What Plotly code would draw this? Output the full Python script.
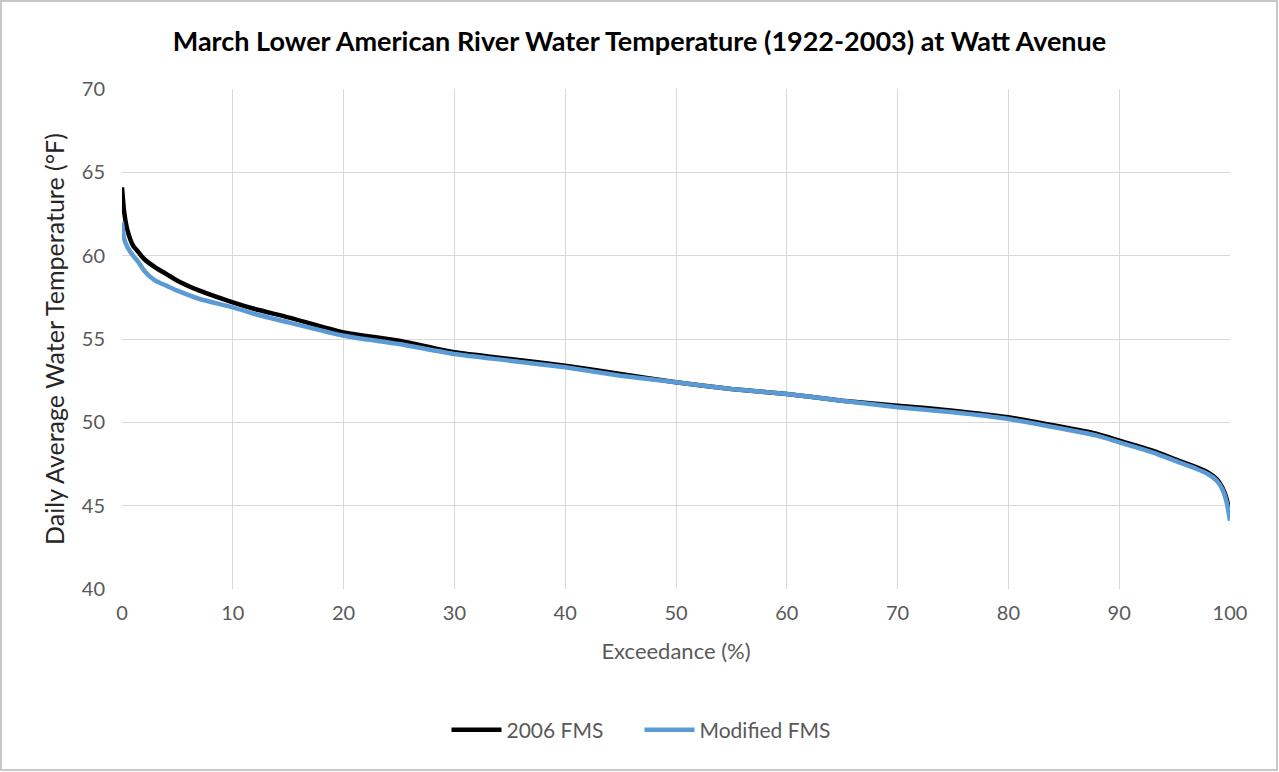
import plotly.graph_objects as go

exceed_2006 = [0, 0.2, 0.5, 1, 1.5, 2, 3, 4, 5, 7, 10, 12, 15, 20, 25, 30, 35, 40, 45, 50, 55, 60, 65, 70, 75, 80, 85, 88, 90, 93, 95, 97, 98, 98.8, 99.3, 99.7, 100]
temp_2006 = [64.1, 62.6, 61.5, 60.6, 60.2, 59.8, 59.3, 58.9, 58.5, 57.9, 57.2, 56.8, 56.3, 55.4, 54.9, 54.2, 53.8, 53.4, 52.9, 52.4, 52.0, 51.7, 51.3, 51.0, 50.7, 50.3, 49.7, 49.3, 48.9, 48.3, 47.8, 47.3, 47.0, 46.6, 46.1, 45.4, 44.4]

exceed_mod = [0, 0.2, 0.5, 1, 1.5, 2, 3, 4, 5, 7, 10, 12, 15, 20, 25, 30, 35, 40, 45, 50, 55, 60, 65, 70, 75, 80, 85, 88, 90, 93, 95, 97, 98, 98.8, 99.3, 99.7, 100]
temp_mod = [62.0, 61.0, 60.5, 60.0, 59.6, 59.1, 58.5, 58.2, 57.9, 57.4, 56.9, 56.5, 56.0, 55.2, 54.7, 54.1, 53.7, 53.3, 52.8, 52.4, 52.0, 51.7, 51.3, 50.9, 50.6, 50.2, 49.6, 49.2, 48.8, 48.2, 47.7, 47.2, 46.9, 46.5, 46.0, 45.2, 44.1]

fig = go.Figure()
fig.add_trace(go.Scatter(x=exceed_2006, y=temp_2006, mode="lines", name="2006 FMS",
                         line=dict(color="#000000", width=4.5, shape="spline", smoothing=0.6)))
fig.add_trace(go.Scatter(x=exceed_mod, y=temp_mod, mode="lines", name="Modified FMS",
                         line=dict(color="#5B9BD5", width=4.5, shape="spline", smoothing=0.6)))

W, H = 1279, 772
ml, mr, mt, mb = 122, 49, 89, 183
pw, ph = W - ml - mr, H - mt - mb
FONT = "Lato, Liberation Sans, sans-serif"

fig.update_layout(
    width=W, height=H,
    margin=dict(l=ml, r=mr, t=mt, b=mb, autoexpand=False),
    paper_bgcolor="white", plot_bgcolor="white",
    font=dict(family=FONT, color="#595959", size=20),
    title=dict(text="<b>March Lower American River Water Temperature (1922-2003) at Watt Avenue</b>",
               x=0.5, xref="container", xanchor="center", y=1 - 42 / H, yanchor="middle",
               font=dict(size=27, color="#000000", family=FONT)),
    xaxis=dict(range=[0, 100], dtick=10, showgrid=True, gridcolor="#d9d9d9", gridwidth=1,
               zeroline=False, showline=False, ticks="", ticklabelstandoff=10, automargin=False,
               tickfont=dict(size=20, color="#595959"),
               title=dict(text="Exceedance (%)", font=dict(size=22, color="#595959"), standoff=20)),
    yaxis=dict(range=[40, 70], dtick=5, showgrid=True, gridcolor="#d9d9d9", gridwidth=1,
               zeroline=False, showline=False, ticks="", ticklabelstandoff=16, automargin=False,
               tickfont=dict(size=20, color="#595959"),
               title=dict(text="Daily Average Water Temperature (°F)", font=dict(size=25, color="#262626"), standoff=10)),
    legend=dict(orientation="h", x=0.5, xref="container", xanchor="center", y=-(730 - 589) / ph, yanchor="middle",
                font=dict(size=21, color="#595959"), itemwidth=50, entrywidth=128, entrywidthmode="pixels"),
    shapes=[dict(type="rect", xref="paper", yref="paper",
                 x0=-(ml - 1) / pw, x1=1 + (mr - 2) / pw,
                 y0=-(mb - 2) / ph, y1=1 + (mt - 1) / ph,
                 line=dict(color="#c8c8c8", width=2), fillcolor="rgba(0,0,0,0)", layer="below")],
)

fig.write_html("out.html", config={"displayModeBar": False},
               post_script="document.body.style.margin='0';document.body.style.overflow='hidden';")
